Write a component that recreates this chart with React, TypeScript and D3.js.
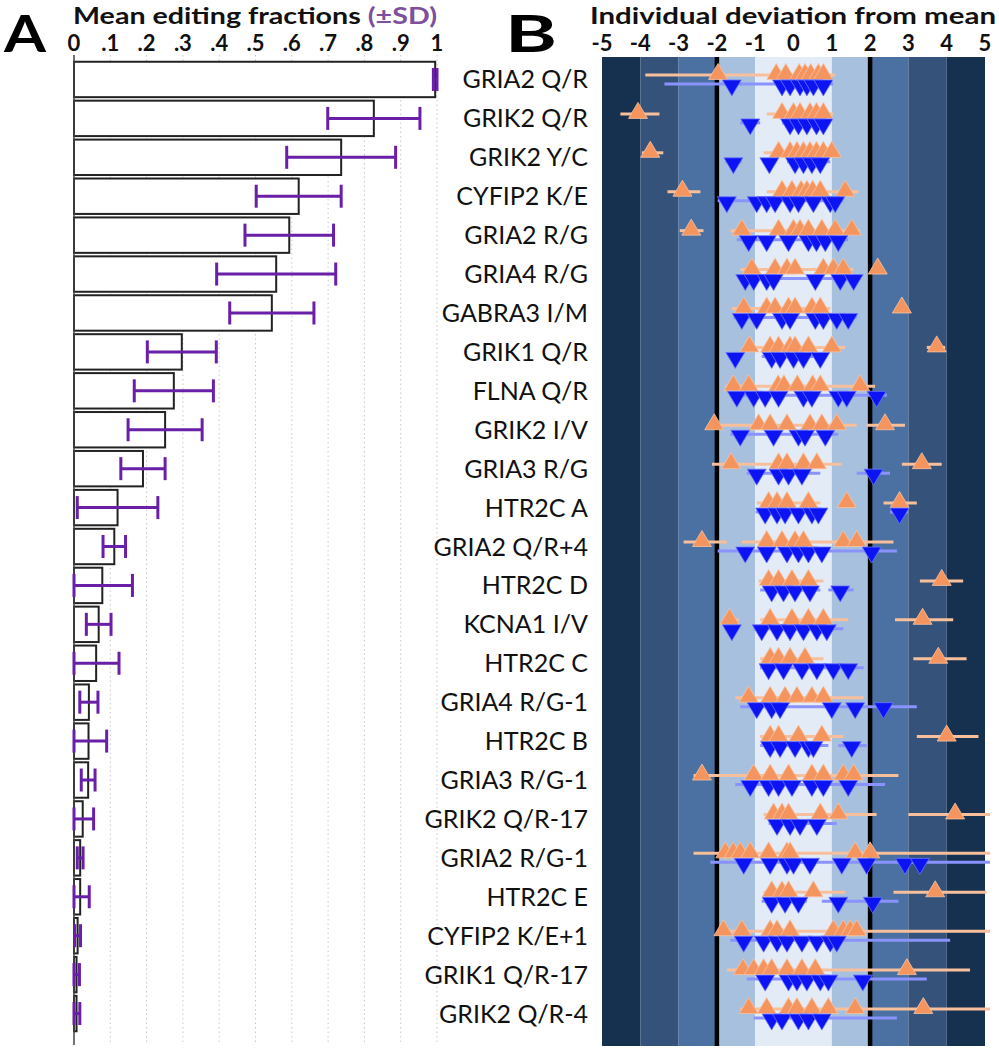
import React from 'react';
import * as d3 from 'd3';

const sites = ["GRIA2 Q/R","GRIK2 Q/R","GRIK2 Y/C","CYFIP2 K/E","GRIA2 R/G","GRIA4 R/G","GABRA3 I/M","GRIK1 Q/R","FLNA Q/R","GRIK2 I/V","GRIA3 R/G","HTR2C A","GRIA2 Q/R+4","HTR2C D","KCNA1 I/V","HTR2C C","GRIA4 R/G-1","HTR2C B","GRIA3 R/G-1","GRIK2 Q/R-17","GRIA2 R/G-1","HTR2C E","CYFIP2 K/E+1","GRIK1 Q/R-17","GRIK2 Q/R-4"];

const meanFrac = [0.995,0.826,0.736,0.619,0.593,0.557,0.545,0.297,0.275,0.251,0.190,0.120,0.111,0.078,0.068,0.061,0.041,0.040,0.039,0.024,0.017,0.017,0.010,0.007,0.007];
const sdFrac = [0.005,0.127,0.150,0.117,0.122,0.164,0.116,0.095,0.109,0.102,0.061,0.111,0.031,0.083,0.034,0.063,0.025,0.050,0.019,0.030,0.008,0.025,0.008,0.008,0.009];

const fracTicks = [0,0.1,0.2,0.3,0.4,0.5,0.6,0.7,0.8,0.9,1];
const fracTickLabels = ["0",".1",".2",".3",".4",".5",".6",".7",".8",".9","1"];
const devTicks = [-5,-4,-3,-2,-1,0,1,2,3,4,5];

// orange (up) deviations per site
const upDev: number[][] = [
  [-1.97,-0.45,-0.2,0.15,0.3,0.45,0.65,0.78],
  [-4.06,-0.3,0,0.17,0.43,0.6,0.78],
  [-3.74,-0.39,-0.09,0.09,0.26,0.43,0.6,0.78,1.0],
  [-2.9,-0.3,-0.04,0.2,0.35,0.5,0.7,1.35],
  [-2.67,-1.35,-0.39,0,0.17,0.39,0.74,1.09,1.52],
  [-1.09,-0.48,-0.17,0.04,0.78,1.04,1.3,2.2],
  [-1.3,-0.7,-0.48,-0.13,0.04,0.48,0.7,2.83],
  [-1.15,-0.61,-0.39,-0.09,0.04,0.39,1.0,3.74],
  [-1.57,-1.17,-0.4,-0.25,0.1,0.5,0.7,1.74],
  [-2.07,-0.91,-0.61,-0.17,0.43,0.74,1.13,2.39],
  [-1.63,-0.39,-0.17,0.26,0.61,3.35],
  [-0.65,-0.43,-0.17,0.39,1.39,2.77],
  [-2.39,-0.7,-0.3,0.04,0.26,1.3,1.65],
  [-0.65,-0.39,-0.04,0.39,3.87],
  [-1.67,-0.61,-0.04,0.39,0.78,3.37],
  [-0.61,-0.39,-0.09,0.3,3.78],
  [-1.17,-0.61,-0.22,0.09,0.48,0.78],
  [-0.61,-0.39,0.13,0.74,4.0],
  [-2.39,-1.04,-0.61,-0.13,0.48,0.78,1.3,1.57],
  [-0.52,-0.3,-0.13,0.7,1.17,4.22],
  [-1.78,-1.57,-1.39,-1.13,-0.65,-0.17,-0.09,1.61,2.0],
  [-0.57,-0.3,-0.13,0.52,3.7],
  [-1.83,-1.35,-0.61,-0.43,-0.09,1.04,1.3,1.48,1.65],
  [-1.32,-1.04,-0.78,-0.57,-0.17,0.22,0.57,2.96],
  [-1.17,-0.7,-0.13,0.09,0.48,0.91,1.61,3.39],
];
const upRange: number[][][] = [
  [[-3.87,1.09]],
  [[-4.52,-3.5],[-0.7,1.04]],
  [[-3.96,-3.4],[-0.78,1.17]],
  [[-3.29,-2.43],[-0.7,1.7]],
  [[-2.97,-2.35],[-1.65,1.74]],
  [[-1.39,1.57]],
  [[-1.61,0.96]],
  [[-1.3,1.35],[3.48,3.96]],
  [[-1.78,2.13]],
  [[-2.17,1.65],[1.91,2.91]],
  [[-2.13,1.26],[2.83,3.87]],
  [[-0.96,0.7],[2.35,3.22]],
  [[-2.87,-1.74],[-1.35,2.61]],
  [[-0.91,0.78],[3.3,4.43]],
  [[-1.7,-1.43],[-0.87,1.43],[2.65,4.17]],
  [[-0.87,0.78],[3.13,4.52]],
  [[-1.52,1.83]],
  [[-0.87,1.3],[3.22,4.83]],
  [[-2.61,2.74]],
  [[-0.78,2.17],[3.0,5.13]],
  [[-2.61,5.13]],
  [[-0.78,1.35],[2.61,5.04]],
  [[-1.96,5.13]],
  [[-1.74,4.61]],
  [[-1.39,5.13]],
];
// blue (down) deviations per site
const downDev: number[][] = [
  [-1.61,-0.3,-0.09,0.17,0.35,0.52,0.78],
  [-1.13,-0.09,0.13,0.35,0.6,0.78],
  [-1.57,-0.63,0.04,0.26,0.48,0.7],
  [-1.74,-0.96,-0.7,-0.48,-0.09,0.13,0.52,0.96,1.09],
  [-1.17,-0.7,-0.13,0.39,0.6,0.83,1.17],
  [-1.26,-1.04,-0.7,-0.52,0.57,1.22,1.57],
  [-1.35,-0.96,-0.3,-0.09,0.57,0.78,1.13,1.43],
  [-1.52,-0.57,-0.35,0,0.26,0.7],
  [-1.48,-1.04,-0.74,-0.39,0.26,0.48,1.17,1.39,2.17],
  [-1.39,-0.52,0.13,0.3,0.83],
  [-0.96,-0.39,-0.13,0.22,2.09],
  [-0.74,-0.43,-0.22,0.13,0.48,0.65,2.77],
  [-1.26,-0.7,-0.17,0.13,0.39,0.74,2.04],
  [-0.57,-0.26,0.04,0.43,1.22],
  [-1.61,-0.83,-0.43,-0.09,0.26,0.61,0.87],
  [-0.65,-0.26,0.22,0.61,1.04,1.43],
  [-0.96,-0.57,-0.35,1.0,1.61,2.35],
  [-0.61,-0.35,0.04,0.39,0.52,1.52],
  [-1.13,-0.65,-0.39,-0.04,0.48,0.78,1.43],
  [-0.43,-0.09,0.17,0.61],
  [-1.3,-0.61,-0.17,0,0.43,1.26,1.91,2.91,3.3],
  [-0.57,-0.22,0.13,1.17,2.07],
  [-1.3,-0.78,-0.43,-0.17,0.22,0.61,0.96,1.13],
  [-0.74,-0.13,0.09,0.35,0.7,0.91,1.81],
  [-0.57,-0.3,0.13,0.39,0.74],
];
const downRange: number[][][] = [
  [[-3.37,1.04]],
  [[-1.39,-0.87],[-0.3,0.96]],
  [[-1.78,-1.35],[-0.8,-0.45],[-0.17,0.96]],
  [[-1.98,1.3]],
  [[-1.48,1.43]],
  [[-1.43,1.74]],
  [[-1.57,1.65]],
  [[-0.83,0.87]],
  [[-1.65,2.44]],
  [[-1.65,1.17]],
  [[-1.22,0.7],[1.65,2.52]],
  [[-0.99,0.83],[2.52,2.99]],
  [[-1.98,2.7]],
  [[-0.87,0.7],[0.91,1.57]],
  [[-1.04,1.3]],
  [[-0.87,1.83]],
  [[-1.39,3.22]],
  [[-0.87,0.91],[1.17,1.91]],
  [[-1.52,2.39]],
  [[-0.65,1.13]],
  [[-2.17,5.13]],
  [[-0.83,0.35],[0.74,2.74]],
  [[-1.65,4.09]],
  [[-1.22,3.48]],
  [[-1.04,2.7]],
];

const bandEdges = [-5,-4,-3,-2,-1,1,2,3,4,5];
const bandColors = ["#16304f","#34527a","#4a71a1","#a7c0de","#e3ebf6","#a7c0de","#4a71a1","#34527a","#16304f"];

const FONT = "Lato, 'Open Sans', sans-serif";

export default function App() {
  const y = d3.scaleBand<string>().domain(sites).range([60, 1033]).paddingInner(0.09).paddingOuter(0.045);
  const xA = d3.scaleLinear().domain([0, 1]).range([74, 437]);
  const xB = d3.scaleLinear().domain([-5, 5]).range([602, 985]);
  const bw = y.bandwidth();
  const rc = (i: number) => (y(sites[i]) as number) + bw / 2;
  const triW = 9.5, triH = 16;

  return (
    <svg width={999} height={1050} style={{ position: 'absolute', left: 0, top: 0, background: '#fff' }} fontFamily={FONT}>
      {/* Panel letters */}
      <text x={4} y={52} fontSize={52} fontWeight={700} fill="#000" textLength={42} lengthAdjust="spacingAndGlyphs">A</text>
      <text x={505} y={52} fontSize={52} fontWeight={700} fill="#000" textLength={52} lengthAdjust="spacingAndGlyphs">B</text>

      {/* Panel A title */}
      <text x={73} y={24} fontSize={23.5} fontWeight={700} fill="#111" textLength={364} lengthAdjust="spacingAndGlyphs">
        Mean editing fractions <tspan fill="#7d4f9e">(±SD)</tspan>
      </text>
      {fracTicks.map((t, i) => (
        <text key={'ta' + i} x={xA(t)} y={51} fontSize={22} fontWeight={700} textAnchor="middle" fill="#111">{fracTickLabels[i]}</text>
      ))}
      {fracTicks.slice(1).map((t, i) => (
        <line key={'ga' + i} x1={xA(t)} x2={xA(t)} y1={55} y2={1045} stroke="#c8c8c8" strokeWidth={1} strokeDasharray="1.5,3" />
      ))}
      {/* bars */}
      {sites.map((s, i) => (
        <rect key={'b' + i} x={xA(0)} y={y(s)} width={xA(meanFrac[i]) - xA(0)} height={bw} fill="#fff" stroke="#222" strokeWidth={2} />
      ))}
      <line x1={xA(0)} x2={xA(0)} y1={55} y2={1045} stroke="#444" strokeWidth={1.5} />
      {/* error bars */}
      {sites.map((s, i) => {
        const lo = xA(Math.max(0, meanFrac[i] - sdFrac[i]));
        const hi = xA(meanFrac[i] + sdFrac[i]);
        const cy = rc(i);
        return (
          <g key={'e' + i} stroke="#6a1fa8" strokeWidth={3}>
            <line x1={lo} x2={hi} y1={cy} y2={cy} />
            <line x1={lo} x2={lo} y1={cy - 11.5} y2={cy + 11.5} />
            <line x1={hi} x2={hi} y1={cy - 11.5} y2={cy + 11.5} />
          </g>
        );
      })}
      {/* labels */}
      {sites.map((s, i) => (
        <text key={'l' + i} x={588} y={rc(i) + 9} fontSize={25} textAnchor="end" fill="#111">{s}</text>
      ))}

      {/* Panel B title */}
      <text x={590} y={24} fontSize={23.5} fontWeight={700} fill="#111" textLength={406} lengthAdjust="spacingAndGlyphs">Individual deviation from mean</text>
      {devTicks.map((t, i) => (
        <text key={'tb' + i} x={xB(t)} y={51} fontSize={22} fontWeight={700} textAnchor="middle" fill="#111">{String(t)}</text>
      ))}
      {/* bands */}
      {bandColors.map((c, i) => (
        <rect key={'bd' + i} x={xB(bandEdges[i])} y={57} width={xB(bandEdges[i + 1]) - xB(bandEdges[i])} height={989} fill={c} />
      ))}
      <line x1={xB(-2)} x2={xB(-2)} y1={57} y2={1046} stroke="#000" strokeWidth={4.5} />
      <line x1={xB(2)} x2={xB(2)} y1={57} y2={1046} stroke="#000" strokeWidth={4.5} />

      {/* ranges */}
      {sites.map((s, i) => (
        <g key={'r' + i}>
          {upRange[i].map((r, j) => (
            <line key={'ur' + j} x1={xB(r[0])} x2={xB(r[1])} y1={rc(i) - 4.5} y2={rc(i) - 4.5} stroke="#f8bf9c" strokeWidth={3} />
          ))}
          {downRange[i].map((r, j) => (
            <line key={'dr' + j} x1={xB(r[0])} x2={xB(r[1])} y1={rc(i) + 4.5} y2={rc(i) + 4.5} stroke="#8a92ff" strokeWidth={3} />
          ))}
        </g>
      ))}
      {/* markers */}
      {sites.map((s, i) => {
        const cy = rc(i);
        return (
          <g key={'m' + i}>
            {upDev[i].map((v, j) => {
              const cx = xB(v);
              return <path key={'u' + j} d={`M${cx - triW},${cy} L${cx + triW},${cy} L${cx},${cy - triH} Z`} fill="#f4955f" stroke="#f9c3a2" strokeWidth={0.8} />;
            })}
            {downDev[i].map((v, j) => {
              const cx = xB(v);
              return <path key={'d' + j} d={`M${cx - triW},${cy + 0.5} L${cx + triW},${cy + 0.5} L${cx},${cy + 0.5 + triH} Z`} fill="#0c14f4" stroke="#6d76ff" strokeWidth={0.8} />;
            })}
          </g>
        );
      })}
    </svg>
  );
}
